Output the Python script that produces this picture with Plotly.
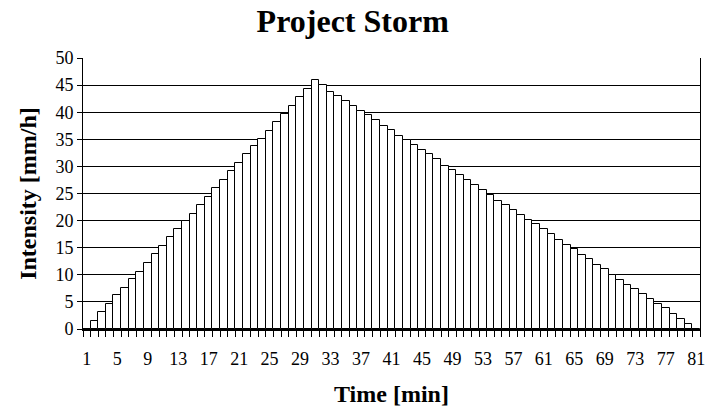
import plotly.graph_objects as go

# Design storm hyetograph: one intensity value per minute
minutes = list(range(1, 82))
intensity = [
    0.0, 1.5, 3.1, 4.6, 6.2, 7.6, 9.2, 10.6, 12.2, 13.8,
    15.3, 16.9, 18.4, 19.9, 21.3, 22.9, 24.4, 26.0, 27.5, 29.1,
    30.6, 32.2, 33.7, 35.1, 36.6, 38.2, 39.7, 41.2, 42.8, 44.3,
    45.9, 45.0, 43.8, 43.0, 42.1, 41.2, 40.3, 39.5, 38.6, 37.5,
    36.7, 35.7, 34.9, 34.0, 33.1, 32.2, 31.3, 30.1, 29.3, 28.4,
    27.5, 26.6, 25.7, 24.8, 23.7, 22.8, 21.9, 21.0, 20.2, 19.3,
    18.4, 17.5, 16.5, 15.5, 14.7, 13.7, 12.9, 11.9, 11.1, 10.0,
    9.1, 8.2, 7.3, 6.4, 5.5, 4.7, 3.8, 2.7, 1.8, 0.9,
    0.0,
]
x_tick_labels = list(range(1, 82, 4))
y_tick_values = list(range(0, 51, 5))

SERIF = "Liberation Serif, Times New Roman, serif"

fig = go.Figure(
    go.Bar(
        x=minutes,
        y=intensity,
        width=1,
        marker=dict(color="white", line=dict(color="black", width=1)),
        hoverinfo="x+y",
    )
)

fig.update_layout(
    width=714,
    height=419,
    margin=dict(l=83, r=9, t=58, b=90),
    paper_bgcolor="white",
    plot_bgcolor="white",
    showlegend=False,
    bargap=0,
    font=dict(family=SERIF, size=18, color="black"),
    title=dict(
        text="<b>Project Storm</b>",
        x=0.494,
        xanchor="center",
        y=0.95,
        yanchor="middle",
        font=dict(family=SERIF, size=32, color="black"),
    ),
)

fig.update_xaxes(
    range=[0.5, 81.5],
    tickmode="array",
    tickvals=x_tick_labels,
    ticktext=[str(v) for v in x_tick_labels],
    ticks="",
    ticklabelstandoff=12,
    showgrid=False,
    zeroline=False,
    showline=True,
    linecolor="black",
    linewidth=2,
    tickfont=dict(family=SERIF, size=18, color="black"),
    minor=dict(ticks="outside", tick0=0.5, dtick=1, ticklen=6,
               tickcolor="black", tickwidth=1, showgrid=False),
    title=dict(text="<b>Time [min]</b>", standoff=18,
               font=dict(family=SERIF, size=24, color="black")),
)

fig.update_yaxes(
    range=[0, 50],
    tickmode="array",
    tickvals=y_tick_values,
    ticks="outside",
    ticklen=5,
    tickcolor="black",
    showgrid=True,
    gridcolor="black",
    gridwidth=1,
    zeroline=False,
    showline=True,
    mirror=True,
    linecolor="black",
    linewidth=1,
    tickfont=dict(family=SERIF, size=18, color="black"),
    title=dict(text="<b>Intensity [mm/h]</b>", standoff=12,
               font=dict(family=SERIF, size=24, color="black")),
)

fig.write_html("out.html")
